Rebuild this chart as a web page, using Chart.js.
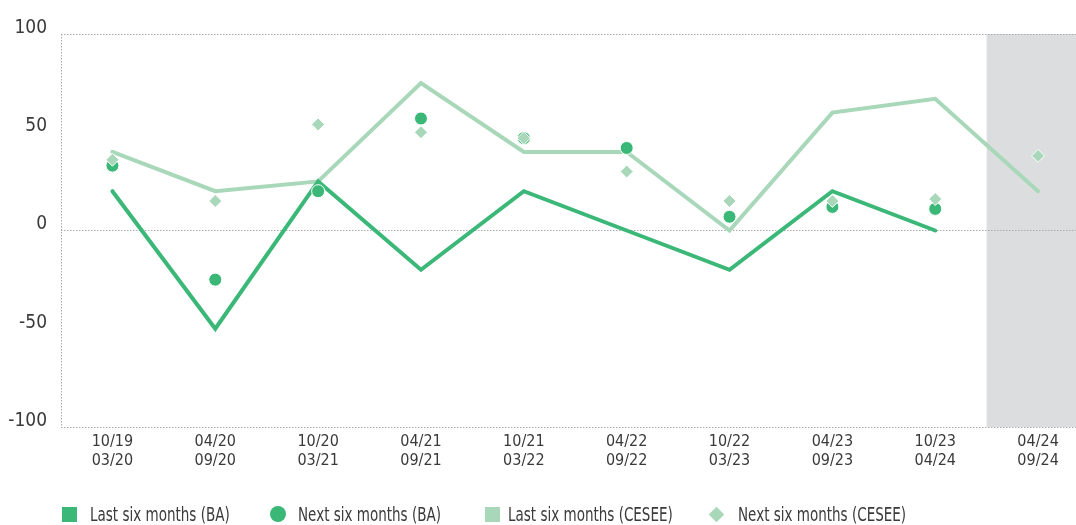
<!DOCTYPE html>
<html>
<head>
<meta charset="utf-8">
<script src="https://cdn.jsdelivr.net/npm/chart.js@4/dist/chart.umd.min.js"></script>
<style>
  body { margin: 0; overflow: hidden; background: #fff; }
  #wrap { position: relative; width: 1097px; height: 525px; }
  #chartBox { position: absolute; left: 0; top: 0; width: 1097px; height: 525px; }
  #legend {
    position: absolute; left: 0; top: 503px; width: 1076px; height: 22px;
    font-family: "DejaVu Sans Condensed", "Liberation Sans Narrow", sans-serif;
    font-size: 19px; color: #3a3a3a; white-space: nowrap;
  }
  .item { position: absolute; top: 0; height: 22px; display: flex; align-items: center; }
  .mk { width: 15px; height: 15px; flex: none; }
  .circle { border-radius: 50%; width: 16px; height: 16px; }
  .diamond { width: 11px; height: 11px; transform: rotate(45deg); margin-left: 2px; }
  .txt { display: inline-block; transform: scaleX(0.79); transform-origin: left center; }
</style>
</head>
<body>
<div id="wrap">
  <div id="chartBox"><canvas id="chart"></canvas></div>
  <div id="legend"></div>
</div>
<script>
  var DARK = '#3bb878';
  var LIGHT = '#a8d8b9';

  var labels = [
    ['10/19', '03/20'], ['04/20', '09/20'], ['10/20', '03/21'], ['04/21', '09/21'],
    ['10/21', '03/22'], ['04/22', '09/22'], ['10/22', '03/23'], ['04/23', '09/23'],
    ['10/23', '04/24'], ['04/24', '09/24']
  ];
  var lastBA = [20, -50, 25, -20, 20, 0, -20, 20, 0, null];
  var nextBA = [33, -25, 20, 57, 47, 42, 7, 12, 11, null];
  var lastCESEE = [40, 20, 25, 75, 40, 40, 0, 60, 67, 20];
  var nextCESEE = [36, 15, 54, 50, 47, 30, 15, 15, 16, 38];
  var yTicks = [-100, -50, 0, 50, 100];

  // legend entries, placed where the reference has them
  var legendItems = [
    { text: 'Last six months (BA)', color: DARK, cls: '', x: 62, tx: 90 },
    { text: 'Next six months (BA)', color: DARK, cls: 'circle', x: 270, tx: 298 },
    { text: 'Last six months (CESEE)', color: LIGHT, cls: '', x: 485, tx: 508 },
    { text: 'Next six months (CESEE)', color: LIGHT, cls: 'diamond', x: 709, tx: 738 }
  ];

  var legendBox = document.getElementById('legend');
  legendItems.forEach(function (it) {
    var mk = document.createElement('div');
    mk.className = 'item';
    mk.style.left = it.x + 'px';
    mk.innerHTML = '<span class="mk ' + it.cls + '" style="background:' + it.color + '"></span>';
    legendBox.appendChild(mk);
    var t = document.createElement('div');
    t.className = 'item';
    t.style.left = it.tx + 'px';
    t.innerHTML = '<span class="txt">' + it.text + '</span>';
    legendBox.appendChild(t);
  });

  // grey band behind the forecast period (drawn under the grid)
  var forecastBand = {
    id: 'forecastBand',
    beforeDraw: function (chart) {
      var x = chart.scales.x, a = chart.chartArea, c = chart.ctx;
      var left = (x.getPixelForValue(8) + x.getPixelForValue(9)) / 2;
      c.save();
      c.fillStyle = '#dcdddf';
      c.fillRect(left, a.top, a.right - left, a.bottom - a.top);
      c.restore();
    }
  };

  var font = '"DejaVu Sans Condensed", "Liberation Sans Narrow", sans-serif';

  new Chart(document.getElementById('chart').getContext('2d'), {
    type: 'line',
    data: {
      labels: labels,
      datasets: [
        {
          label: 'Next six months (CESEE)', data: nextCESEE, showLine: false, order: 1,
          pointStyle: 'rectRot', pointRadius: 6.5, pointBackgroundColor: LIGHT,
          pointBorderColor: '#fff', pointBorderWidth: 1
        },
        {
          label: 'Next six months (BA)', data: nextBA, showLine: false, order: 2,
          pointStyle: 'circle', pointRadius: 6.5, pointBackgroundColor: DARK,
          pointBorderColor: '#fff', pointBorderWidth: 1
        },
        {
          label: 'Last six months (BA)', data: lastBA, order: 3,
          borderColor: DARK, borderWidth: 4, pointRadius: 0, tension: 0,
          borderCapStyle: 'round', borderJoinStyle: 'miter', spanGaps: false
        },
        {
          label: 'Last six months (CESEE)', data: lastCESEE, order: 4,
          borderColor: LIGHT, borderWidth: 4, pointRadius: 0, tension: 0,
          borderCapStyle: 'round', borderJoinStyle: 'miter'
        }
      ]
    },
    options: {
      responsive: true,
      maintainAspectRatio: false,
      animation: false,
      layout: { padding: { top: 34, bottom: 50, left: 0, right: 0 } },
      plugins: { legend: { display: false }, tooltip: { enabled: false } },
      scales: {
        x: {
          offset: true,
          grid: {
            offset: true, drawTicks: false, lineWidth: 1,
            color: function (ctx) { return ctx.index === 0 ? '#aaaaaa' : 'transparent'; }
          },
          border: { display: false, dash: [1.5, 1.5] },
          ticks: { color: '#3a3a3a', padding: 5, font: { family: font, size: 16, lineHeight: 1.2 }, maxRotation: 0, autoSkip: false },
          afterFit: function (s) { s.height = 48; }
        },
        y: {
          min: -100, max: 100,
          afterBuildTicks: function (s) { s.ticks = yTicks.map(function (v) { return { value: v }; }); },
          grid: {
            drawTicks: false, lineWidth: 1,
            color: function (ctx) { return ctx.tick && ctx.tick.value % 100 === 0 ? '#aaaaaa' : 'transparent'; }
          },
          border: { display: false, dash: [1.5, 1.5] },
          ticks: { color: '#3a3a3a', padding: 14, labelOffset: -6, font: { family: font, size: 19 } },
          afterFit: function (s) { s.width = 61; }
        }
      }
    },
    plugins: [forecastBand]
  });
</script>
</body>
</html>
